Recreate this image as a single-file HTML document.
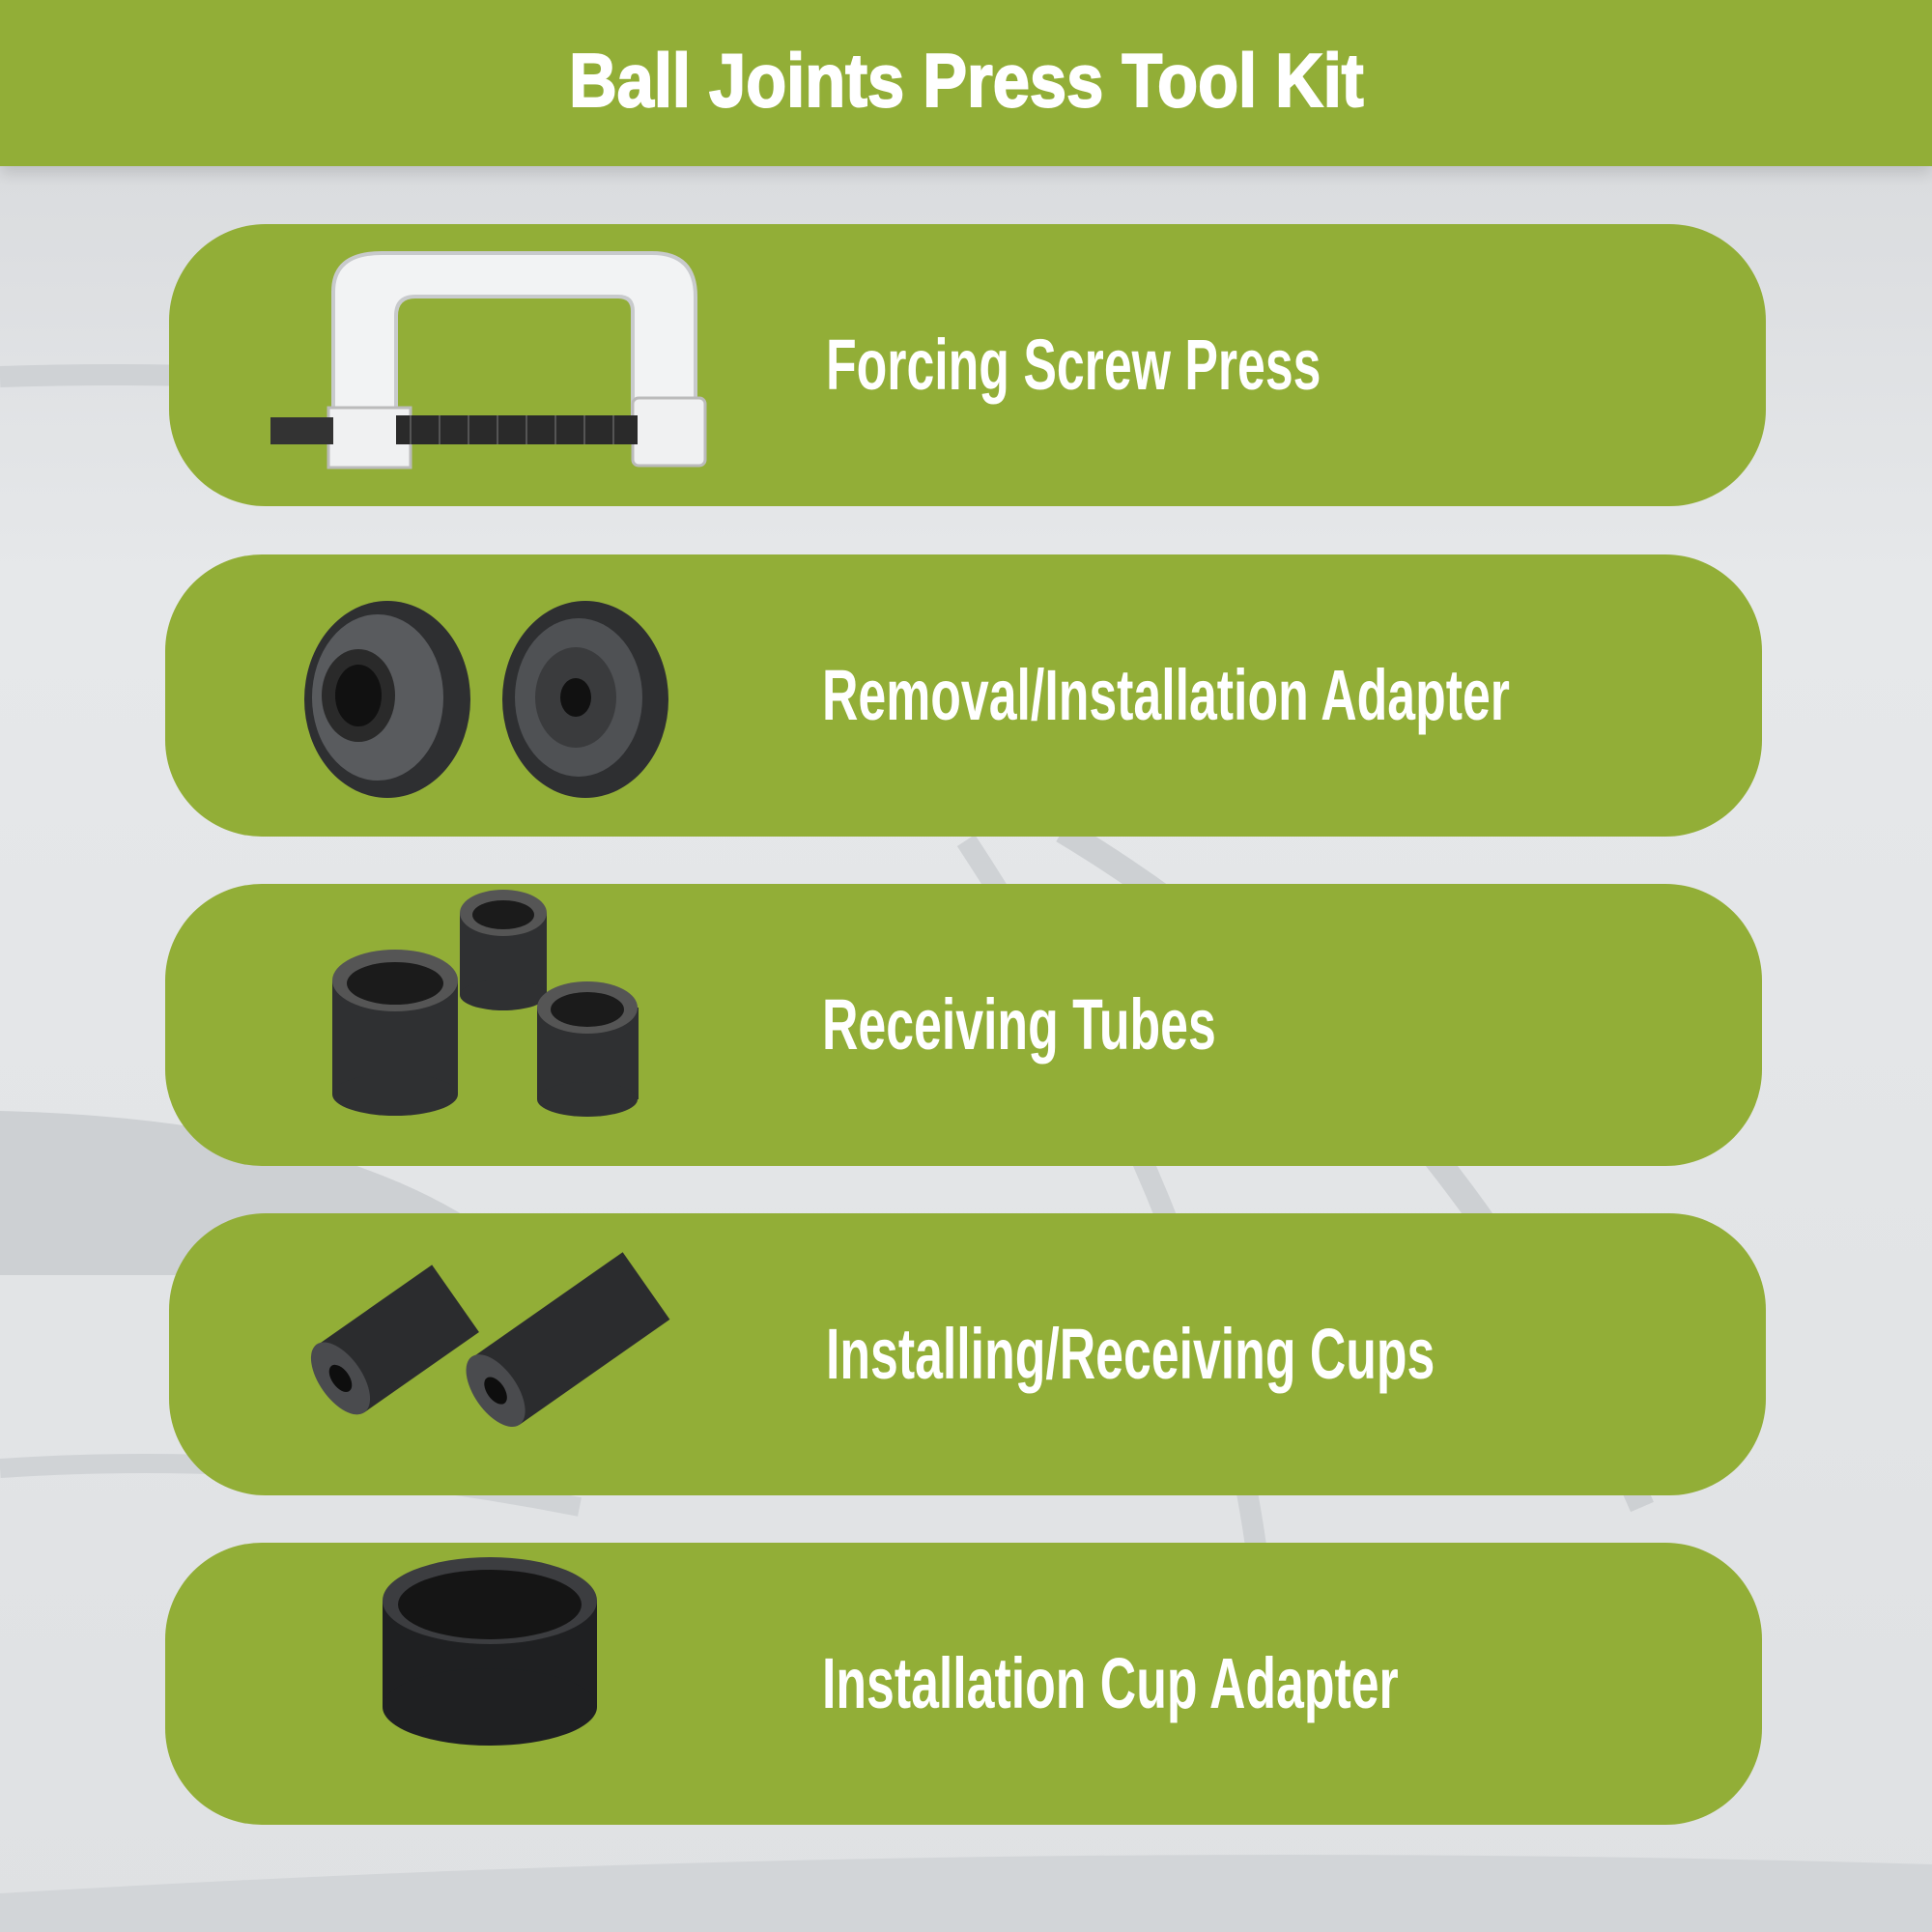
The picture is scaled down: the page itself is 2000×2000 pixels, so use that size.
<!DOCTYPE html>
<html><head><meta charset="utf-8">
<style>
html,body{margin:0;padding:0}
body{width:2000px;height:2000px;position:relative;overflow:hidden;background:#e3e5e7;font-family:"Liberation Sans",sans-serif}
.hdr{position:absolute;left:0;top:0;width:2000px;height:172px;background:#92ae37;box-shadow:0 8px 14px rgba(0,0,0,0.12)}
.title{position:absolute;left:0;width:2000px;top:38px;text-align:center;color:#fff;font-weight:bold;font-size:78px;line-height:90px}
.title span{display:inline-block;transform:scaleX(0.88);-webkit-text-stroke:2px #fff}
.card{position:absolute;background:#92ae37;border-radius:100px;height:292px;width:1653px}
.lbl{position:absolute;left:680px;top:104px;color:#fff;font-weight:bold;font-size:74px;line-height:84px;white-space:nowrap;transform:scaleX(0.70);transform-origin:left center}
svg.ic{position:absolute;left:0;top:0}
</style></head><body>
<svg width="2000" height="2000" style="position:absolute;left:0;top:0">
<defs><linearGradient id="bg" x1="0" y1="0" x2="0" y2="1"><stop offset="0" stop-color="#d5d7da"/><stop offset="0.3" stop-color="#e6e8ea"/><stop offset="1" stop-color="#dfe1e3"/></linearGradient></defs>
<rect width="2000" height="2000" fill="url(#bg)"/>
<path d="M0 390 Q300 380 600 420" stroke="#cfd2d5" stroke-width="22" fill="none"/>
<path d="M1100 860 Q1500 1100 1700 1560" stroke="#cdd0d3" stroke-width="26" fill="none"/>
<path d="M1000 870 Q1250 1250 1300 1600" stroke="#cfd2d5" stroke-width="22" fill="none"/>
<path d="M0 1150 Q400 1160 560 1320 L0 1320Z" fill="#cdd0d3"/>
<path d="M0 1520 Q300 1500 600 1560" stroke="#d0d3d6" stroke-width="20" fill="none"/>
<path d="M0 1960 Q1000 1900 2000 1930 L2000 2000 L0 2000Z" fill="#d2d5d8"/>
</svg>
<div class="hdr"></div>
<div class="title"><span>Ball Joints Press Tool Kit</span></div>

<div class="card" style="left:175px;top:232px">
<svg class="ic" width="700" height="292">
<path d="M170 195 L170 70 Q170 30 220 30 L500 30 Q545 30 545 75 L545 205 L480 205 L480 90 Q480 75 465 75 L255 75 Q235 75 235 95 L235 195Z" fill="#f2f3f4" stroke="#c8cacc" stroke-width="4"/>
<rect x="165" y="190" width="85" height="62" fill="#f0f1f2" stroke="#bbb" stroke-width="3"/>
<rect x="480" y="180" width="75" height="70" rx="6" fill="#f0f1f2" stroke="#bbb" stroke-width="3"/>
<rect x="105" y="200" width="65" height="28" fill="#333"/>
<rect x="235" y="198" width="250" height="30" fill="#2a2a2a"/>
<g stroke="#555" stroke-width="2">
<line x1="250" y1="198" x2="250" y2="228"/><line x1="280" y1="198" x2="280" y2="228"/><line x1="310" y1="198" x2="310" y2="228"/><line x1="340" y1="198" x2="340" y2="228"/><line x1="370" y1="198" x2="370" y2="228"/><line x1="400" y1="198" x2="400" y2="228"/><line x1="430" y1="198" x2="430" y2="228"/><line x1="460" y1="198" x2="460" y2="228"/></g>
</svg>
<div class="lbl">Forcing Screw Press</div></div>

<div class="card" style="left:171px;top:574px">
<svg class="ic" width="700" height="292">
<ellipse cx="230" cy="150" rx="86" ry="102" fill="#2e2f31"/><ellipse cx="220" cy="148" rx="68" ry="86" fill="#595b5e"/><ellipse cx="200" cy="146" rx="38" ry="48" fill="#2a2a2a"/><ellipse cx="200" cy="146" rx="24" ry="32" fill="#111"/>
<ellipse cx="435" cy="150" rx="86" ry="102" fill="#2e2f31"/><ellipse cx="428" cy="148" rx="66" ry="82" fill="#4f5154"/><ellipse cx="425" cy="148" rx="42" ry="52" fill="#3a3b3d"/><ellipse cx="425" cy="148" rx="16" ry="20" fill="#111"/>
</svg>
<div class="lbl">Removal/Installation Adapter</div></div>

<div class="card" style="left:171px;top:915px">
<svg class="ic" width="700" height="292">
<rect x="305" y="30" width="90" height="85" fill="#2f3032"/><ellipse cx="350" cy="30" rx="45" ry="24" fill="#555"/><ellipse cx="350" cy="32" rx="32" ry="15" fill="#1b1b1b"/><ellipse cx="350" cy="115" rx="45" ry="16" fill="#2f3032"/>
<rect x="173" y="100" width="130" height="118" fill="#2f3032"/><ellipse cx="238" cy="100" rx="65" ry="32" fill="#555"/><ellipse cx="238" cy="103" rx="50" ry="22" fill="#1b1b1b"/><ellipse cx="238" cy="218" rx="65" ry="22" fill="#2f3032"/>
<rect x="385" y="128" width="105" height="95" fill="#2f3032"/><ellipse cx="437" cy="128" rx="52" ry="27" fill="#555"/><ellipse cx="437" cy="130" rx="38" ry="18" fill="#1b1b1b"/><ellipse cx="437" cy="223" rx="52" ry="18" fill="#2f3032"/>
</svg>
<div class="lbl">Receiving Tubes</div></div>

<div class="card" style="left:175px;top:1256px">
<svg class="ic" width="700" height="292">
<g transform="rotate(-35 230 150)"><rect x="175" y="95" width="145" height="85" fill="#2b2c2e"/><ellipse cx="175" cy="137" rx="22" ry="43" fill="#4a4b4e"/><ellipse cx="175" cy="137" rx="9" ry="16" fill="#0e0e0e"/></g>
<g transform="rotate(-35 400 150)"><rect x="330" y="100" width="190" height="85" fill="#2b2c2e"/><ellipse cx="330" cy="142" rx="22" ry="43" fill="#4a4b4e"/><ellipse cx="330" cy="142" rx="9" ry="16" fill="#0e0e0e"/></g>
</svg>
<div class="lbl">Installing/Receiving Cups</div></div>

<div class="card" style="left:171px;top:1597px">
<svg class="ic" width="700" height="292">
<rect x="225" y="60" width="222" height="110" fill="#1f2022"/><ellipse cx="336" cy="170" rx="111" ry="40" fill="#1f2022"/><ellipse cx="336" cy="60" rx="111" ry="45" fill="#3c3d40"/><ellipse cx="336" cy="64" rx="95" ry="36" fill="#151515"/>
</svg>
<div class="lbl">Installation Cup Adapter</div></div>
</body></html>
